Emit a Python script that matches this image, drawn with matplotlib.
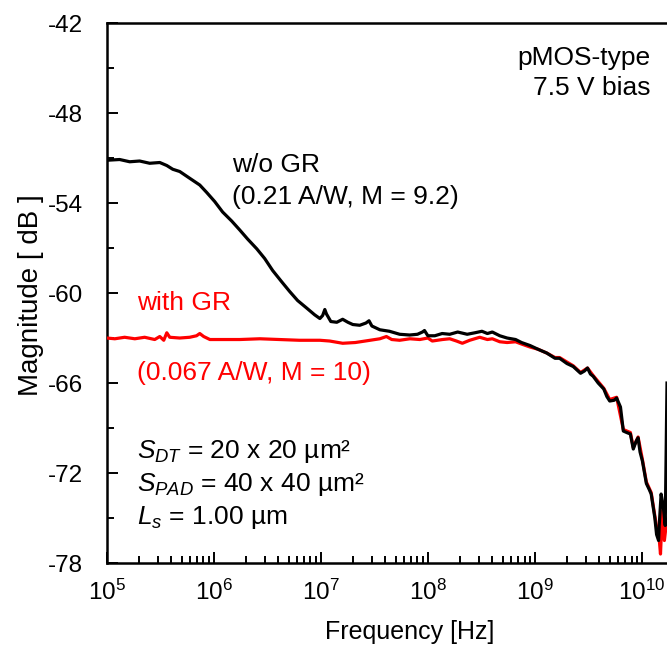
import numpy as np
import matplotlib
matplotlib.use('Agg')
import matplotlib.pyplot as plt
from matplotlib.ticker import LogLocator, LogFormatterMathtext, MultipleLocator, NullFormatter

plt.rcParams['font.family'] = ['Liberation Sans', 'DejaVu Sans']
plt.rcParams['mathtext.fontset'] = 'custom'
plt.rcParams['mathtext.rm'] = 'Liberation Sans'
plt.rcParams['mathtext.it'] = 'Liberation Sans:italic'
plt.rcParams['axes.unicode_minus'] = False

# --- w/o GR (black), frequency in Hz, magnitude in dB
f_nogr = [1e5, 1.32e5, 1.64e5, 2.03e5, 2.52e5, 3.13e5, 3.64e5, 4.14e5, 4.81e5, 5.96e5,
          7.4e5, 8.6e5, 1.02e6, 1.21e6, 1.47e6, 1.75e6, 2.07e6, 2.52e6, 2.99e6, 3.55e6,
          4.31e6, 5.12e6, 6.07e6, 7.37e6, 8.75e6, 9.8e6, 1.04e7, 1.09e7, 1.13e7, 1.24e7,
          1.41e7, 1.60e7, 1.79e7, 1.99e7, 2.31e7, 2.64e7, 2.82e7, 3.0e7, 3.56e7, 4.38e7,
          5.45e7, 6.76e7, 8.0e7, 8.9e7, 9.3e7, 1.0e8, 1.16e8, 1.36e8, 1.6e8, 1.9e8,
          2.33e8, 2.75e8, 3.2e8, 3.6e8, 4.0e8, 4.7e8, 5.5e8, 6.6e8, 7.5e8, 9.0e8,
          1.07e9, 1.29e9, 1.54e9, 1.7e9, 1.99e9, 2.28e9, 2.67e9, 2.9e9, 3.1e9, 3.3e9,
          3.5e9, 3.9e9, 4.4e9, 4.7e9, 5.0e9, 5.5e9, 5.8e9, 6.3e9, 6.7e9, 7.2e9,
          7.8e9, 8.3e9, 8.8e9, 9.2e9, 9.6e9, 1.01e10, 1.10e10, 1.17e10, 1.22e10, 1.32e10,
          1.37e10, 1.43e10, 1.45e10, 1.51e10, 1.58e10, 1.65e10, 1.714e10]
db_nogr = [-51.15, -51.1, -51.25, -51.2, -51.35, -51.3, -51.5, -51.75, -51.9, -52.35,
           -52.8, -53.3, -53.9, -54.6, -55.2, -55.8, -56.4, -57.05, -57.7, -58.5,
           -59.25, -59.9, -60.5, -61.0, -61.45, -61.7, -61.5, -61.1, -61.4, -61.9,
           -61.95, -61.75, -61.95, -62.1, -62.15, -62.0, -61.85, -62.2, -62.45, -62.55,
           -62.75, -62.8, -62.75, -62.6, -62.5, -62.85, -62.85, -62.7, -62.75, -62.6,
           -62.75, -62.65, -62.55, -62.7, -62.6, -62.85, -63.0, -63.1, -63.3, -63.5,
           -63.75, -64.0, -64.35, -64.35, -64.7, -64.9, -65.35, -65.2, -65.0, -65.4,
           -65.55, -66.0, -66.4, -66.9, -67.2, -67.15, -67.0, -67.6, -69.2, -69.3,
           -69.4, -70.4, -69.9, -69.65, -70.6, -71.2, -72.7, -73.1, -73.4, -75.0,
           -76.1, -76.5, -75.5, -73.4, -74.2, -75.5, -66.0]

# --- with GR (red)
f_gr = [1e5, 1.19e5, 1.47e5, 1.83e5, 2.26e5, 2.81e5, 3.13e5, 3.41e5, 3.64e5, 3.88e5,
        4.81e5, 5.96e5, 6.9e5, 7.4e5, 8.05e5, 9.2e5, 1.14e6, 1.75e6, 2.7e6, 4.1e6,
        6.3e6, 9.8e6, 1.21e7, 1.6e7, 2.1e7, 2.6e7, 3.56e7, 4.1e7, 4.6e7, 5.45e7,
        6.8e7, 8.4e7, 1.0e8, 1.1e8, 1.37e8, 1.6e8, 1.85e8, 2.1e8, 2.46e8, 3.05e8,
        3.6e8, 4.0e8, 4.7e8, 5.5e8, 6.6e8, 7.5e8, 9.0e8, 1.07e9, 1.29e9, 1.54e9,
        1.7e9, 1.99e9, 2.28e9, 2.67e9, 3.1e9, 3.5e9, 4.4e9, 5.0e9, 5.8e9, 6.7e9,
        7.8e9, 8.3e9, 9.2e9, 1.01e10, 1.10e10, 1.22e10, 1.37e10, 1.43e10, 1.49e10, 1.55e10,
        1.62e10, 1.714e10]
db_gr = [-63.0, -63.05, -62.95, -63.05, -62.95, -63.1, -62.9, -63.15, -62.65, -62.95,
         -63.0, -62.95, -62.85, -62.7, -62.9, -63.1, -63.1, -63.1, -63.05, -63.1,
         -63.15, -63.15, -63.2, -63.35, -63.3, -63.2, -63.05, -62.9, -63.1, -63.15,
         -63.05, -63.1, -63.0, -63.2, -63.1, -63.05, -63.2, -63.35, -63.15, -62.95,
         -63.1, -63.05, -63.25, -63.3, -63.25, -63.4, -63.6, -63.75, -64.0, -64.3,
         -64.3, -64.6, -64.85, -65.3, -65.0, -65.5, -66.35, -67.1, -66.95, -69.1,
         -69.3, -70.3, -69.6, -71.1, -72.6, -73.3, -75.6, -75.9, -77.4, -74.5,
         -76.5, -75.0]

fig = plt.figure(figsize=(6.67, 6.5), dpi=100)
ax = fig.add_axes([0.160, 0.1338, 0.840, 0.8308])

ax.plot(f_gr, db_gr, color='#ff0000', lw=2.3, zorder=3)
ax.plot(f_nogr, db_nogr, color='black', lw=2.3, zorder=4)

ax.set_xscale('log')
ax.set_xlim(1e5, 10**10.234)
ax.set_ylim(-78, -42)

ax.yaxis.set_major_locator(MultipleLocator(6))
ax.yaxis.set_minor_locator(MultipleLocator(3))
ax.xaxis.set_major_locator(LogLocator(base=10, numticks=20))
ax.xaxis.set_minor_locator(LogLocator(base=10, subs=np.arange(2, 10), numticks=20))
ax.xaxis.set_major_formatter(LogFormatterMathtext())
ax.xaxis.set_minor_formatter(NullFormatter())

ax.tick_params(which='both', direction='in', labelsize=17.5, width=1.4)
ax.tick_params(which='major', length=8)
ax.tick_params(which='minor', length=5)
ax.tick_params(axis='x', pad=12)
ax.tick_params(axis='y', pad=17)
for s in ['left', 'bottom', 'top']:
    ax.spines[s].set_linewidth(1.8)
ax.spines['right'].set_visible(False)

# axis titles placed by figure position (the original axis runs past the right crop)
fig.text(410 / 667, 1 - 632 / 650, 'Frequency [Hz]', ha='center', va='center', fontsize=18)
fig.text(31 / 667, 1 - 295 / 650, 'Magnitude [ dB ]', ha='center', va='center',
         rotation=90, fontsize=20)

kw = dict(transform=ax.transAxes, va='center', fontsize=19)
ax.text(0.970, 0.935, 'pMOS-type', ha='right', **kw)
ax.text(0.970, 0.880, '7.5 V bias', ha='right', **kw)
ax.text(0.223, 0.737, 'w/o GR', ha='left', **kw)
ax.text(0.223, 0.678, '(0.21 A/W, M = 9.2)', ha='left', **kw)
ax.text(0.054, 0.481, 'with GR', ha='left', color='#ff0000', **kw)
ax.text(0.054, 0.352, '(0.067 A/W, M = 10)', ha='left', color='#ff0000', **kw)
ax.text(0.054, 0.206, r'$\mathit{S}_{\mathit{DT}}$ = 20 x 20 µm²', ha='left', **kw)
ax.text(0.054, 0.146, r'$\mathit{S}_{\mathit{PAD}}$ = 40 x 40 µm²', ha='left', **kw)
ax.text(0.054, 0.085, r'$\mathit{L}_{\mathit{s}}$ = 1.00 µm', ha='left', **kw)

fig.savefig('out.png', dpi=100)
